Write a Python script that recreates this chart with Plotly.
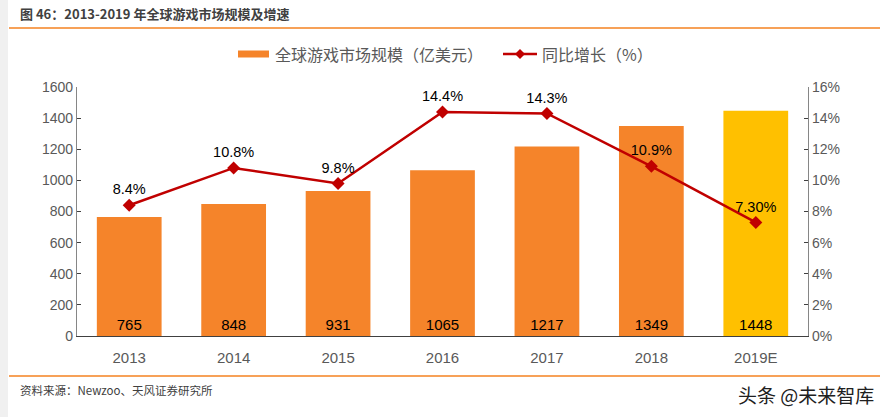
import plotly.graph_objects as go

years = ["2013", "2014", "2015", "2016", "2017", "2018", "2019E"]
market_size = [765, 848, 931, 1065, 1217, 1349, 1448]
growth = [8.4, 10.8, 9.8, 14.4, 14.3, 10.9, 7.3]
growth_labels = ["8.4%", "10.8%", "9.8%", "14.4%", "14.3%", "10.9%", "7.30%"]
bar_colors = ["#F5842A"] * 6 + ["#FFC000"]

title_text = "图 46：2013-2019 年全球游戏市场规模及增速"
legend_bar = "全球游戏市场规模（亿美元）"
legend_line = "同比增长（%）"
source_text = "资料来源：Newzoo、天风证券研究所"
watermark = "头条 @未来智库"

W, H = 889, 417
L, R, T, B = 77, 808, 87, 336
FONT = "Liberation Sans, Arial, Noto Sans CJK SC, sans-serif"
CJK = "Noto Sans CJK SC, Liberation Sans, sans-serif"

def px(x):
    return (x - L) / (R - L)

def py(y):
    return (B - y) / (B - T)

fig = go.Figure()
fig.add_trace(go.Bar(
    x=years, y=market_size, marker=dict(color=bar_colors, line=dict(width=0)),
    width=0.62, text=[str(v) for v in market_size], textposition="inside",
    insidetextanchor="start", textangle=0,
    textfont=dict(family=FONT, size=15, color="#000000"),
    showlegend=False, cliponaxis=False, hoverinfo="skip",
))
fig.add_trace(go.Scatter(
    x=years, y=growth, yaxis="y2", mode="lines+markers+text",
    line=dict(color="#C00000", width=2.5),
    marker=dict(symbol="diamond", size=10, color="#C00000"),
    text=growth_labels, textposition="top center",
    textfont=dict(family=FONT, size=14.5, color="#000000"),
    showlegend=False, cliponaxis=False,
))

shapes = [
    dict(type="rect", xref="paper", yref="paper", x0=px(0), x1=px(8), y0=py(H), y1=py(0),
         fillcolor="#F0F0F0", line=dict(width=0), layer="below"),
    dict(type="line", xref="paper", yref="paper", x0=px(9), x1=px(880), y0=py(28), y1=py(28),
         line=dict(color="#F58220", width=1.5)),
    dict(type="line", xref="paper", yref="paper", x0=px(9), x1=px(880), y0=py(376), y1=py(376),
         line=dict(color="#F58220", width=1.5)),
    dict(type="rect", xref="paper", yref="paper", x0=px(238), x1=px(269), y0=py(57.5), y1=py(50.5),
         fillcolor="#F5842A", line=dict(width=0)),
    dict(type="line", xref="paper", yref="paper", x0=px(503), x1=px(537), y0=py(54), y1=py(54),
         line=dict(color="#C00000", width=2.5)),
    dict(type="path", xref="paper", yref="paper",
         path=f"M {px(520)} {py(49)} L {px(525)} {py(54)} L {px(520)} {py(59)} L {px(515)} {py(54)} Z",
         fillcolor="#C00000", line=dict(color="#C00000", width=0)),
]

annotations = [
    dict(text="<b>" + title_text + "</b>", xref="paper", yref="paper", x=px(18), y=py(14),
         xanchor="left", yanchor="middle", showarrow=False,
         font=dict(family=CJK, size=13, color="#404040")),
    dict(text=legend_bar, xref="paper", yref="paper", x=px(273), y=py(54), xanchor="left", yanchor="middle",
         showarrow=False, font=dict(family=CJK, size=16, color="#595959")),
    dict(text=legend_line, xref="paper", yref="paper", x=px(540), y=py(54), xanchor="left", yanchor="middle",
         showarrow=False, font=dict(family=CJK, size=16, color="#595959")),
    dict(text=source_text, xref="paper", yref="paper", x=px(18), y=py(390), xanchor="left", yanchor="middle",
         showarrow=False, font=dict(family=CJK, size=11.5, color="#404040")),
    dict(text=watermark, xref="paper", yref="paper", x=px(876), y=py(394), xanchor="right", yanchor="middle",
         showarrow=False, font=dict(family=CJK, size=19, color="#202020")),
]

fig.update_layout(
    width=W, height=H,
    margin=dict(l=L, r=W - R, t=T, b=H - B, pad=0),
    paper_bgcolor="#FFFFFF", plot_bgcolor="#FFFFFF",
    font=dict(family=FONT, size=13, color="#595959"),
    xaxis=dict(showgrid=False, showline=True, linecolor="#404040", linewidth=1.2, ticks="",
               ticklabelstandoff=8,
               tickfont=dict(family=FONT, size=15, color="#595959"), fixedrange=True),
    yaxis=dict(range=[0, 1600], dtick=200, showgrid=False, showline=True, linecolor="#868686",
               linewidth=1.2, ticks="inside", ticklen=4, tickcolor="#404040",
               tickfont=dict(family=FONT, size=14, color="#595959"), zeroline=False),
    yaxis2=dict(range=[0, 16], dtick=2, overlaying="y", side="right", showgrid=False, showline=True,
                linecolor="#868686", linewidth=1.2, ticks="inside", ticklen=4, tickcolor="#404040",
                ticksuffix="%", tickfont=dict(family=FONT, size=14, color="#595959"), zeroline=False),
    shapes=shapes, annotations=annotations, showlegend=False,
)

fig.write_html("out.html")
